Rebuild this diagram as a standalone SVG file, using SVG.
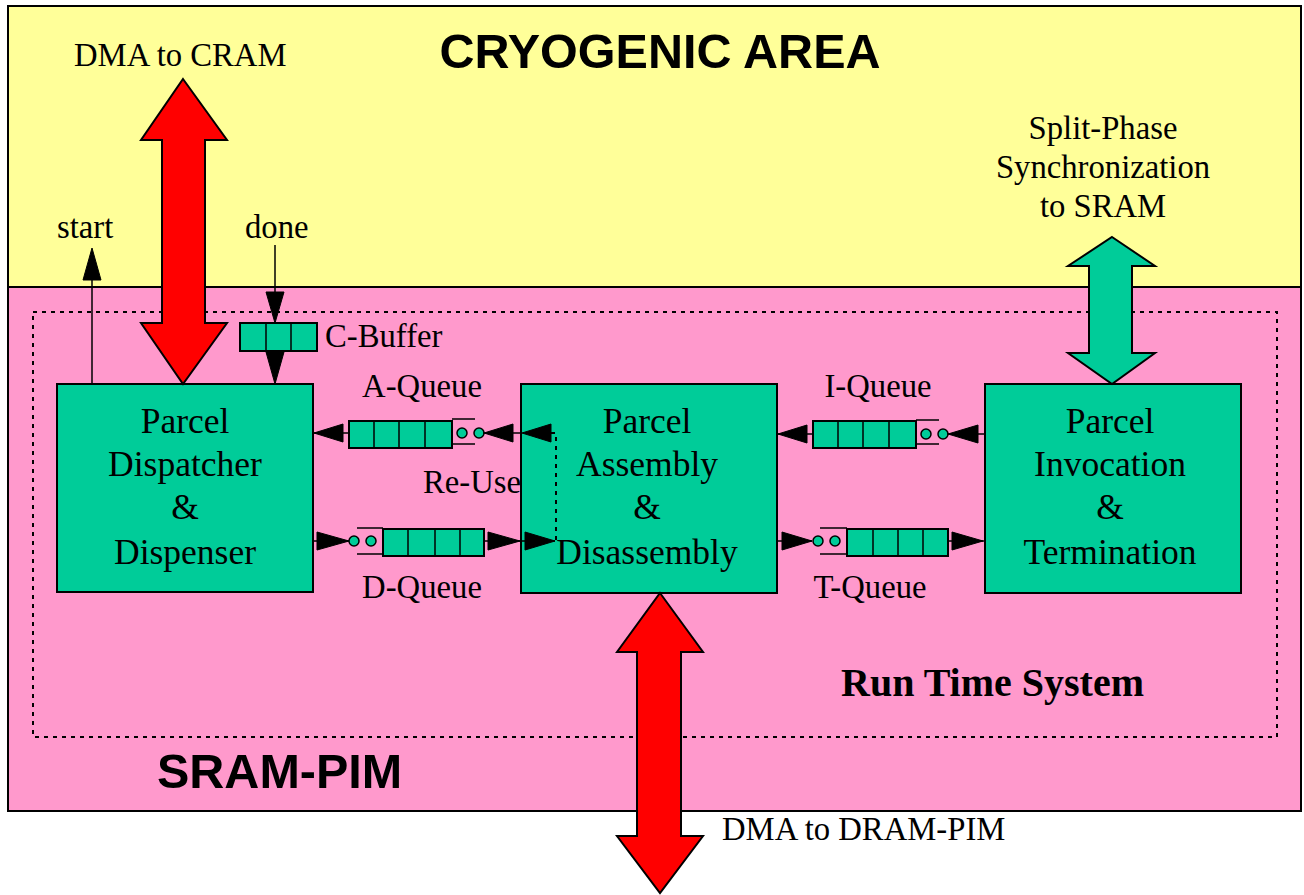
<svg xmlns="http://www.w3.org/2000/svg" width="1304" height="895" viewBox="0 0 1304 895">
<style>
.serif{font-family:"Liberation Serif","Times New Roman",serif;fill:#000}
.lbl{font-size:32.7px}
.box{fill:#00CC99;stroke:#000;stroke-width:2}
.boxt{font-size:35.5px;text-anchor:middle}
.title{font-family:"Liberation Sans",Arial,sans-serif;font-weight:bold;font-size:48.5px;fill:#000}
.ln{stroke:#000;stroke-width:1.5;fill:none}
.ah{fill:#000;stroke:#000;stroke-width:1}
.cell{fill:#00CC99;stroke:#000;stroke-width:2}
.br{stroke:#000;stroke-width:1.5;fill:none}
.circ{fill:#00CC99;stroke:#000;stroke-width:1.5}
.big{stroke:#000;stroke-width:2;stroke-linejoin:miter}
.dot{stroke:#000;stroke-width:2;stroke-dasharray:4 5;fill:none}
</style>
<rect width="1304" height="895" fill="#fff"/>
<g id="cryogenic-area">
<rect x="8" y="6" width="1293" height="281" fill="#FFFF99" stroke="#000" stroke-width="2"/>
<text class="title" x="660" y="68" text-anchor="middle">CRYOGENIC AREA</text>
</g>
<g id="sram-pim">
<rect x="8" y="287" width="1293" height="524" fill="#FF99CC" stroke="#000" stroke-width="2"/>
<text class="title" x="157" y="788">SRAM-PIM</text>
</g>
<g id="run-time-system">
<rect class="dot" x="33" y="312" width="1244" height="425"/>
<text class="serif" x="841" y="696" font-size="40" font-weight="bold">Run Time System</text>
</g>
<g id="parcel-dispatcher">
<rect class="box" x="57" y="384" width="256" height="208"/>
<text class="serif boxt" x="185" y="433">Parcel</text>
<text class="serif boxt" x="185" y="476">Dispatcher</text>
<text class="serif boxt" x="185" y="519">&amp;</text>
<text class="serif boxt" x="185" y="564">Dispenser</text>
</g>
<g id="parcel-assembly">
<rect class="box" x="521" y="384" width="256" height="209"/>
<text class="serif boxt" x="647" y="433">Parcel</text>
<text class="serif boxt" x="647" y="476">Assembly</text>
<text class="serif boxt" x="647" y="519">&amp;</text>
<text class="serif boxt" x="647" y="564">Disassembly</text>
</g>
<g id="parcel-invocation">
<rect class="box" x="985" y="384" width="256" height="209"/>
<text class="serif boxt" x="1110" y="433">Parcel</text>
<text class="serif boxt" x="1110" y="476">Invocation</text>
<text class="serif boxt" x="1110" y="519">&amp;</text>
<text class="serif boxt" x="1110" y="564">Termination</text>
</g>
<g id="c-buffer">
<rect class="cell" x="240" y="323" width="77" height="28"/>
<line class="br" x1="266" y1="323" x2="266" y2="351" stroke-width="2"/>
<line class="br" x1="291" y1="323" x2="291" y2="351" stroke-width="2"/>
<text class="serif lbl" x="325" y="347">C-Buffer</text>
</g>
<g id="a-queue">
<rect class="cell" x="349" y="421" width="103" height="27"/>
<path class="br" stroke-width="2" d="M374 421V448M399 421V448M425 421V448"/>
<path class="br" d="M452 419H475M452 444H475"/>
<circle class="circ" cx="462" cy="433" r="5"/>
<circle class="circ" cx="479" cy="433" r="5"/>
<text class="serif lbl" x="422" y="397" text-anchor="middle">A-Queue</text>
</g>
<g id="d-queue">
<rect class="cell" x="383" y="529" width="101" height="27"/>
<path class="br" stroke-width="2" d="M408 529V556M435 529V556M460 529V556"/>
<path class="br" d="M357 528H383M357 554H383"/>
<circle class="circ" cx="354" cy="541" r="5"/>
<circle class="circ" cx="371" cy="541" r="5"/>
<text class="serif lbl" x="422" y="598" text-anchor="middle">D-Queue</text>
</g>
<g id="i-queue">
<rect class="cell" x="813" y="421" width="103" height="27"/>
<path class="br" stroke-width="2" d="M838 421V448M863 421V448M889 421V448"/>
<path class="br" d="M916 420H939M916 444H939"/>
<circle class="circ" cx="926" cy="434" r="5"/>
<circle class="circ" cx="943" cy="434" r="5"/>
<text class="serif lbl" x="878" y="397" text-anchor="middle">I-Queue</text>
</g>
<g id="t-queue">
<rect class="cell" x="847" y="529" width="101" height="27"/>
<path class="br" stroke-width="2" d="M873 529V556M898 529V556M923 529V556"/>
<path class="br" d="M820 528H847M820 554H847"/>
<circle class="circ" cx="818" cy="541" r="5"/>
<circle class="circ" cx="835" cy="541" r="5"/>
<text class="serif lbl" x="870" y="598" text-anchor="middle">T-Queue</text>
</g>
<g id="connectors">
<line class="ln" x1="92" y1="384" x2="92" y2="278"/>
<polygon class="ah" points="92,248 101,280 83,280"/>
<text class="serif lbl" x="57" y="238">start</text>
<line class="ln" x1="275" y1="245" x2="275" y2="292"/>
<polygon class="ah" points="275,323 266,292 284,292"/>
<polygon class="ah" points="275,384 266,352 284,352"/>
<text class="serif lbl" x="245" y="238">done</text>
<line class="ln" x1="313" y1="433" x2="349" y2="433"/>
<line class="ln" x1="483" y1="433" x2="521" y2="433"/>
<polygon class="ah" points="314,433 343,424 343,442"/>
<polygon class="ah" points="484,433 513,424 513,442"/>
<polygon class="ah" points="522,433 551,424 551,442"/>
<polyline class="dot" stroke-width="1.5" stroke-dasharray="3 3" points="551,433 556,433 556,543"/>
<text class="serif lbl" x="423" y="493">Re-Use</text>
<line class="ln" x1="313" y1="541" x2="349" y2="541"/>
<line class="ln" x1="484" y1="541" x2="555" y2="541"/>
<polygon class="ah" points="349,541 317,532 317,550"/>
<polygon class="ah" points="520,541 488,532 488,550"/>
<polygon class="ah" points="555,541 525,532 525,550"/>
<line class="ln" x1="777" y1="434" x2="813" y2="434"/>
<line class="ln" x1="947" y1="434" x2="985" y2="434"/>
<polygon class="ah" points="778,434 807,425 807,443"/>
<polygon class="ah" points="948,434 978,425 978,443"/>
<line class="ln" x1="777" y1="541" x2="812" y2="541"/>
<line class="ln" x1="948" y1="541" x2="985" y2="541"/>
<polygon class="ah" points="812,541 782,532 782,550"/>
<polygon class="ah" points="983,541 952,532 952,550"/>
<polygon class="big" fill="#FF0000" points="183,79 227,140 205,140 205,323 227,323 183,384 141,323 162,323 162,140 141,140"/>
<text class="serif lbl" x="74" y="66">DMA to CRAM</text>
<polygon class="big" fill="#00CC99" points="1112,237 1155,266 1132,266 1132,353 1155,353 1112,384 1068,353 1089,353 1089,266 1068,266"/>
<text class="serif lbl" x="1103" y="139" text-anchor="middle">Split-Phase</text>
<text class="serif lbl" x="1103" y="178" text-anchor="middle">Synchronization</text>
<text class="serif lbl" x="1103" y="217" text-anchor="middle">to SRAM</text>
<polygon class="big" fill="#FF0000" points="660,593 703,652 681,652 681,836 703,836 660,893 617,836 637,836 637,652 617,652"/>
<text class="serif lbl" x="722" y="840">DMA to DRAM-PIM</text>
</g>
</svg>
